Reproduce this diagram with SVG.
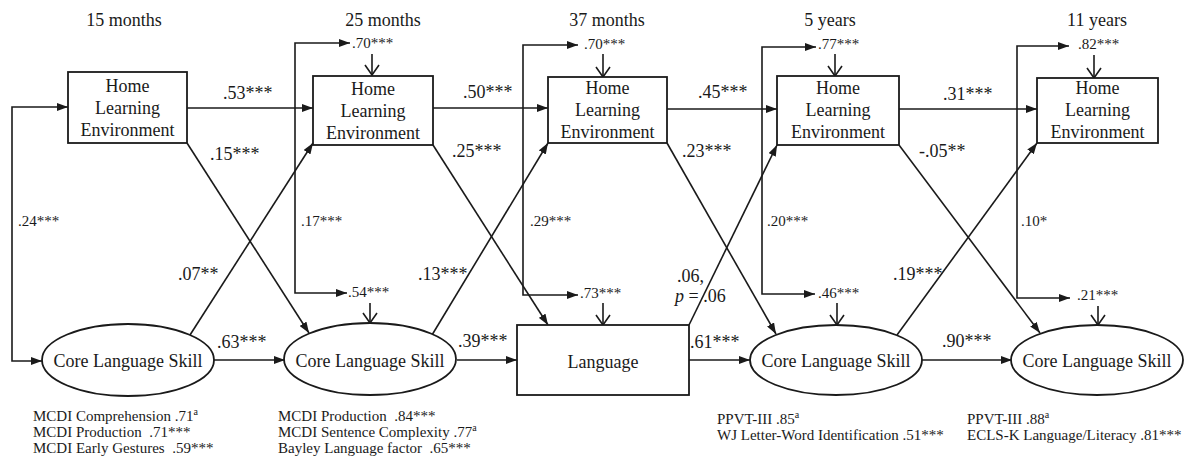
<svg xmlns="http://www.w3.org/2000/svg" width="1185" height="457" viewBox="0 0 1185 457">
<style>
text{font-family:"Liberation Serif","Times New Roman",serif;fill:#1a1a1a}
.t{font-size:18px;text-anchor:middle}
.n{font-size:18px;text-anchor:middle}
.c{font-size:18px}
.s{font-size:15px}
.b{font-size:15px;white-space:pre}
.box{fill:#fff;stroke:#1a1a1a;stroke-width:1.8}
.ln{fill:none;stroke:#1a1a1a;stroke-width:1.6}
.arr{marker-end:url(#ah)}
.both{marker-start:url(#ah);marker-end:url(#ah)}
.dn{marker-end:url(#vh)}
</style>
<defs>
<marker id="ah" viewBox="0 0 11 8" refX="11" refY="4" markerWidth="11" markerHeight="8" markerUnits="userSpaceOnUse" orient="auto-start-reverse"><path d="M0,0 L11,4 L0,8 z" fill="#1a1a1a"/></marker>
<marker id="vh" viewBox="-1 -8 12 16" refX="10" refY="0" markerWidth="12" markerHeight="16" markerUnits="userSpaceOnUse" orient="auto"><path d="M0,-7 L10,0 L0,7" fill="none" stroke="#1a1a1a" stroke-width="1.6"/></marker>
</defs>
<rect width="1185" height="457" fill="#fff"/>

<g id="time-labels">
<text class="t" x="124" y="26">15 months</text>
<text class="t" x="383" y="26">25 months</text>
<text class="t" x="607" y="26">37 months</text>
<text class="t" x="830" y="26">5 years</text>
<text class="t" x="1097" y="26">11 years</text>
</g>

<g id="connectors">
<path class="ln arr" d="M187,108 H313"/>
<path class="ln arr" d="M433,108 H548"/>
<path class="ln arr" d="M667,109 H777"/>
<path class="ln arr" d="M899,109 H1037"/>
<path class="ln arr" d="M214,360 H285"/>
<path class="ln arr" d="M457,360 H517"/>
<path class="ln arr" d="M689,360 H750"/>
<path class="ln arr" d="M922,360 H1012"/>
<path class="ln arr" d="M187,143 L309,333"/>
<path class="ln arr" d="M190,335 L313,143"/>
<path class="ln arr" d="M433,145 L548,325"/>
<path class="ln arr" d="M432,335 L548,143"/>
<path class="ln arr" d="M667,143 L776,334"/>
<path class="ln arr" d="M689,325 L777,145"/>
<path class="ln arr" d="M899,145 L1040,333"/>
<path class="ln arr" d="M897,335 L1037,143"/>
<path class="ln both" d="M68,107 H12 V361 H42"/>
<path class="ln both" d="M350,43 H295 V293 H347"/>
<path class="ln both" d="M578,45 H523 V295 H578"/>
<path class="ln both" d="M816,47 H762 V294 H815"/>
<path class="ln both" d="M1069,46 H1017 V298 H1070"/>
<path class="ln dn" d="M372,54 V75"/>
<path class="ln dn" d="M603,54 V77"/>
<path class="ln dn" d="M835,54 V76"/>
<path class="ln dn" d="M1094,55 V78"/>
<path class="ln dn" d="M370,303 V323"/>
<path class="ln dn" d="M603,303 V325"/>
<path class="ln dn" d="M837,303 V325"/>
<path class="ln dn" d="M1098,306 V325"/>
</g>

<g id="hle15">
<rect class="box" x="68" y="72" width="119" height="71"/>
<text class="n" x="127.5" y="92">Home</text>
<text class="n" x="127.5" y="114">Learning</text>
<text class="n" x="127.5" y="136">Environment</text>
</g>
<g id="hle25">
<rect class="box" x="313" y="76" width="120" height="69"/>
<text class="n" x="373" y="95">Home</text>
<text class="n" x="373" y="117">Learning</text>
<text class="n" x="373" y="139">Environment</text>
</g>
<g id="hle37">
<rect class="box" x="548" y="77" width="119" height="66"/>
<text class="n" x="607.5" y="94">Home</text>
<text class="n" x="607.5" y="116">Learning</text>
<text class="n" x="607.5" y="138">Environment</text>
</g>
<g id="hle5y">
<rect class="box" x="777" y="76" width="122" height="69"/>
<text class="n" x="838" y="94">Home</text>
<text class="n" x="838" y="116">Learning</text>
<text class="n" x="838" y="138">Environment</text>
</g>
<g id="hle11y">
<rect class="box" x="1037" y="78" width="121" height="65"/>
<text class="n" x="1097.5" y="94">Home</text>
<text class="n" x="1097.5" y="116">Learning</text>
<text class="n" x="1097.5" y="138">Environment</text>
</g>

<g id="cls15">
<ellipse class="box" cx="128" cy="360" rx="86" ry="36"/>
<text class="n" x="128" y="367">Core Language Skill</text>
</g>
<g id="cls25">
<ellipse class="box" cx="370" cy="359" rx="86" ry="36"/>
<text class="n" x="370" y="367">Core Language Skill</text>
</g>
<g id="lang37">
<rect class="box" x="517" y="325" width="172" height="70"/>
<text class="n" x="603" y="368">Language</text>
</g>
<g id="cls5y">
<ellipse class="box" cx="836" cy="360" rx="86" ry="35"/>
<text class="n" x="836" y="367">Core Language Skill</text>
</g>
<g id="cls11y">
<ellipse class="box" cx="1097" cy="360" rx="86" ry="35"/>
<text class="n" x="1097" y="367">Core Language Skill</text>
</g>

<g id="path-labels">
<text class="c" x="223" y="99">.53***</text>
<text class="c" x="463" y="98">.50***</text>
<text class="c" x="698" y="98">.45***</text>
<text class="c" x="943" y="100">.31***</text>
<text class="c" x="210" y="160">.15***</text>
<text class="c" x="452" y="157">.25***</text>
<text class="c" x="682" y="157">.23***</text>
<text class="c" x="919" y="157">-.05**</text>
<text class="c" x="178" y="280">.07**</text>
<text class="c" x="418" y="280">.13***</text>
<text class="c" x="677" y="282">.06,</text>
<text class="c" x="675" y="302"><tspan font-style="italic">p</tspan> = .06</text>
<text class="c" x="893" y="280">.19***</text>
<text class="c" x="217" y="348">.63***</text>
<text class="c" x="458" y="347">.39***</text>
<text class="c" x="690" y="348">.61***</text>
<text class="c" x="942" y="347">.90***</text>
<text class="s" x="18" y="226">.24***</text>
<text class="s" x="301" y="226">.17***</text>
<text class="s" x="530" y="226">.29***</text>
<text class="s" x="767" y="226">.20***</text>
<text class="s" x="1021" y="226">.10*</text>
<text class="s" x="352" y="48">.70***</text>
<text class="s" x="584" y="49">.70***</text>
<text class="s" x="818" y="49">.77***</text>
<text class="s" x="1078" y="49">.82***</text>
<text class="s" x="348" y="297">.54***</text>
<text class="s" x="580" y="298">.73***</text>
<text class="s" x="818" y="298">.46***</text>
<text class="s" x="1077" y="300">.21***</text>
</g>

<g id="indicators">
<text class="b" x="33" y="421">MCDI Comprehension .71<tspan font-size="10" dy="-6">a</tspan></text>
<text class="b" x="33" y="437" xml:space="preserve">MCDI Production  .71***</text>
<text class="b" x="33" y="453" xml:space="preserve">MCDI Early Gestures  .59***</text>
<text class="b" x="278" y="421" xml:space="preserve">MCDI Production  .84***</text>
<text class="b" x="278" y="437">MCDI Sentence Complexity .77<tspan font-size="10" dy="-6">a</tspan></text>
<text class="b" x="278" y="453" xml:space="preserve">Bayley Language factor  .65***</text>
<text class="b" x="717" y="424">PPVT-III .85<tspan font-size="10" dy="-6">a</tspan></text>
<text class="b" x="717" y="440">WJ Letter-Word Identification .51***</text>
<text class="b" x="967" y="424">PPVT-III .88<tspan font-size="10" dy="-6">a</tspan></text>
<text class="b" x="967" y="440">ECLS-K Language/Literacy .81***</text>
</g>
</svg>
